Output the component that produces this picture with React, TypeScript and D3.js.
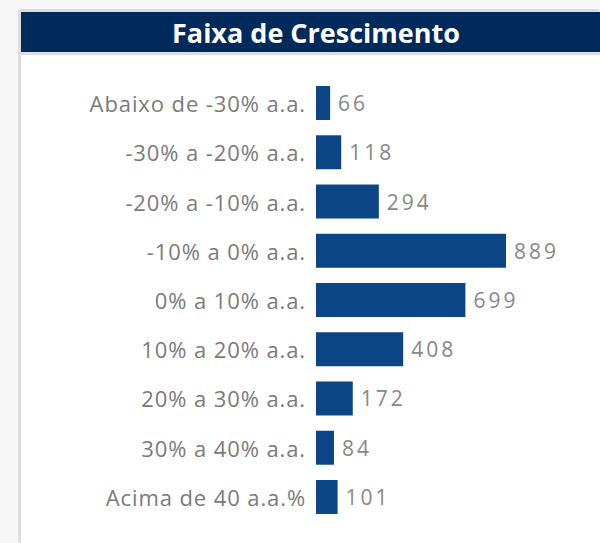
import React from "react";
import * as d3 from "d3";

const categories = [
  "Abaixo de -30% a.a.",
  "-30% a -20% a.a.",
  "-20% a -10% a.a.",
  "-10% a 0% a.a.",
  "0% a 10% a.a.",
  "10% a 20% a.a.",
  "20% a 30% a.a.",
  "30% a 40% a.a.",
  "Acima de 40 a.a.%",
];
const values = [66, 118, 294, 889, 699, 408, 172, 84, 101];
const title = "Faixa de Crescimento";

const W = 600;
const H = 543;
const FONT = "'Open Sans', 'DejaVu Sans', sans-serif";

export default function App() {
  const x0 = 316;
  const x = d3.scaleLinear().domain([0, d3.max(values) as number]).range([0, 190]);
  const y = d3
    .scaleBand<string>()
    .domain(categories)
    .range([78.4, 521.6])
    .paddingInner(0.31)
    .paddingOuter(0.155);
  const bw = y.bandwidth();

  return (
    <div style={{ position: "absolute", left: 0, top: 0, width: W, height: H }}>
      <svg width={W} height={H} style={{ display: "block" }}>
        <rect x={0} y={0} width={W} height={H} fill="#f7f7f7" />
        {/* panel */}
        <rect x={18} y={9} width={W - 18} height={H - 9} rx={3} fill="#dddddd" />
        <rect x={21} y={12} width={W - 21} height={H - 12} fill="#ffffff" />
        <rect x={21} y={12} width={W - 21} height={40} fill="#002a5c" />
        <rect x={21} y={52} width={W - 21} height={3} fill="#dddddd" />
        <text
          x={316}
          y={43}
          textAnchor="middle"
          fill="#ffffff"
          fontFamily={FONT}
          fontWeight={700}
          fontSize={27}
          textLength={288}
          lengthAdjust="spacingAndGlyphs"
        >
          {title}
        </text>
        {categories.map((c, i) => {
          const yy = y(c) as number;
          return (
            <g key={c}>
              <text
                x={306}
                y={yy + bw / 2 + 9}
                textAnchor="end"
                fill="#7b7b7b"
                fontFamily={FONT}
                fontSize={22}
                letterSpacing={0.9}
              >
                {c}
              </text>
              <rect x={x0} y={yy} width={x(values[i])} height={bw} fill="#0b4586" />
              <text
                x={x0 + x(values[i]) + 8}
                y={yy + bw / 2 + 8}
                fill="#888888"
                fontFamily={FONT}
                fontSize={21}
                letterSpacing={3}
              >
                {values[i]}
              </text>
            </g>
          );
        })}
      </svg>
    </div>
  );
}
